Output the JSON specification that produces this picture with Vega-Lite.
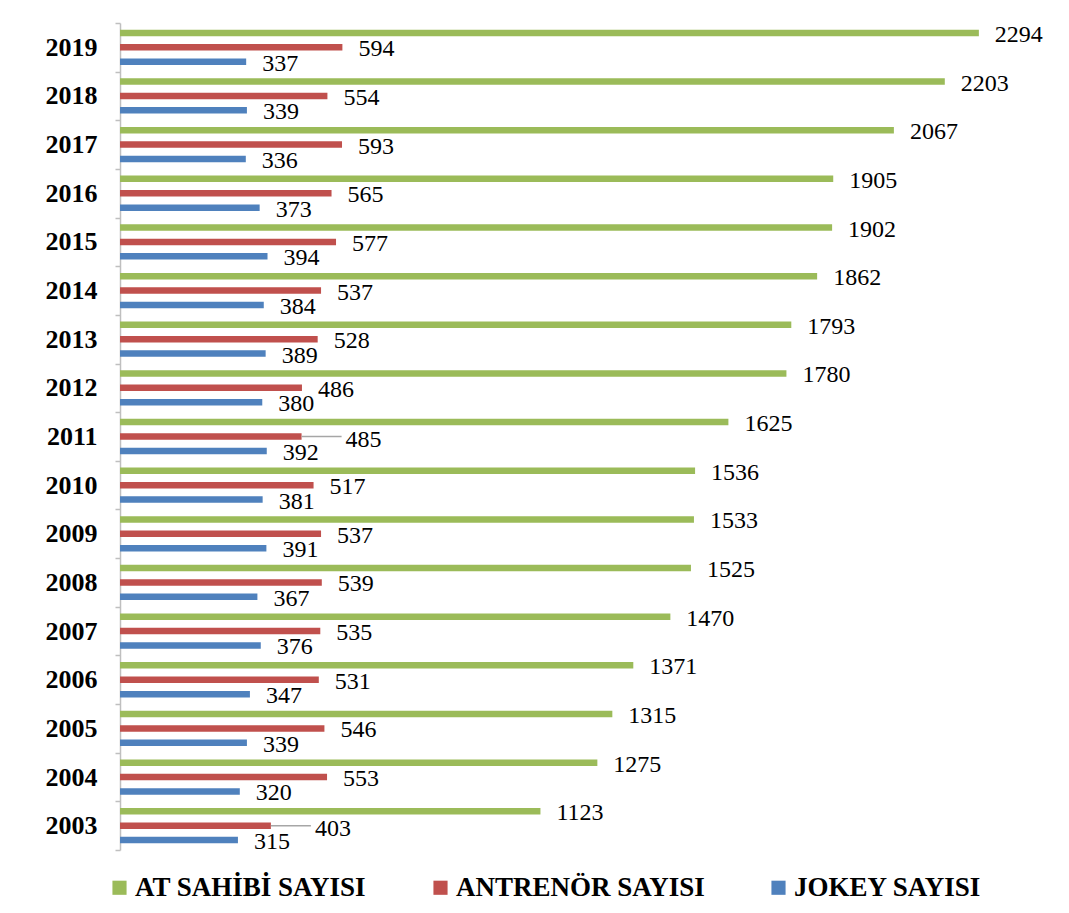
{
  "$schema": "https://vega.github.io/schema/vega-lite/v6.json",
  "autosize": {"type": "none"},
  "padding": {"left": 120, "top": 23, "right": 13, "bottom": 63},
  "width": 936,
  "height": 827,
  "background": "white",
  "config": {
    "font": "Liberation Serif",
    "view": {"stroke": null}
  },
  "data": {
    "values": [
      {"year": "2019", "series": "AT SAHİBİ SAYISI", "value": 2294},
      {"year": "2019", "series": "ANTRENÖR SAYISI", "value": 594},
      {"year": "2019", "series": "JOKEY SAYISI", "value": 337},
      {"year": "2018", "series": "AT SAHİBİ SAYISI", "value": 2203},
      {"year": "2018", "series": "ANTRENÖR SAYISI", "value": 554},
      {"year": "2018", "series": "JOKEY SAYISI", "value": 339},
      {"year": "2017", "series": "AT SAHİBİ SAYISI", "value": 2067},
      {"year": "2017", "series": "ANTRENÖR SAYISI", "value": 593},
      {"year": "2017", "series": "JOKEY SAYISI", "value": 336},
      {"year": "2016", "series": "AT SAHİBİ SAYISI", "value": 1905},
      {"year": "2016", "series": "ANTRENÖR SAYISI", "value": 565},
      {"year": "2016", "series": "JOKEY SAYISI", "value": 373},
      {"year": "2015", "series": "AT SAHİBİ SAYISI", "value": 1902},
      {"year": "2015", "series": "ANTRENÖR SAYISI", "value": 577},
      {"year": "2015", "series": "JOKEY SAYISI", "value": 394},
      {"year": "2014", "series": "AT SAHİBİ SAYISI", "value": 1862},
      {"year": "2014", "series": "ANTRENÖR SAYISI", "value": 537},
      {"year": "2014", "series": "JOKEY SAYISI", "value": 384},
      {"year": "2013", "series": "AT SAHİBİ SAYISI", "value": 1793},
      {"year": "2013", "series": "ANTRENÖR SAYISI", "value": 528},
      {"year": "2013", "series": "JOKEY SAYISI", "value": 389},
      {"year": "2012", "series": "AT SAHİBİ SAYISI", "value": 1780},
      {"year": "2012", "series": "ANTRENÖR SAYISI", "value": 486},
      {"year": "2012", "series": "JOKEY SAYISI", "value": 380},
      {"year": "2011", "series": "AT SAHİBİ SAYISI", "value": 1625},
      {"year": "2011", "series": "ANTRENÖR SAYISI", "value": 485},
      {"year": "2011", "series": "JOKEY SAYISI", "value": 392},
      {"year": "2010", "series": "AT SAHİBİ SAYISI", "value": 1536},
      {"year": "2010", "series": "ANTRENÖR SAYISI", "value": 517},
      {"year": "2010", "series": "JOKEY SAYISI", "value": 381},
      {"year": "2009", "series": "AT SAHİBİ SAYISI", "value": 1533},
      {"year": "2009", "series": "ANTRENÖR SAYISI", "value": 537},
      {"year": "2009", "series": "JOKEY SAYISI", "value": 391},
      {"year": "2008", "series": "AT SAHİBİ SAYISI", "value": 1525},
      {"year": "2008", "series": "ANTRENÖR SAYISI", "value": 539},
      {"year": "2008", "series": "JOKEY SAYISI", "value": 367},
      {"year": "2007", "series": "AT SAHİBİ SAYISI", "value": 1470},
      {"year": "2007", "series": "ANTRENÖR SAYISI", "value": 535},
      {"year": "2007", "series": "JOKEY SAYISI", "value": 376},
      {"year": "2006", "series": "AT SAHİBİ SAYISI", "value": 1371},
      {"year": "2006", "series": "ANTRENÖR SAYISI", "value": 531},
      {"year": "2006", "series": "JOKEY SAYISI", "value": 347},
      {"year": "2005", "series": "AT SAHİBİ SAYISI", "value": 1315},
      {"year": "2005", "series": "ANTRENÖR SAYISI", "value": 546},
      {"year": "2005", "series": "JOKEY SAYISI", "value": 339},
      {"year": "2004", "series": "AT SAHİBİ SAYISI", "value": 1275},
      {"year": "2004", "series": "ANTRENÖR SAYISI", "value": 553},
      {"year": "2004", "series": "JOKEY SAYISI", "value": 320},
      {"year": "2003", "series": "AT SAHİBİ SAYISI", "value": 1123},
      {"year": "2003", "series": "ANTRENÖR SAYISI", "value": 403},
      {"year": "2003", "series": "JOKEY SAYISI", "value": 315}
    ]
  },
  "encoding": {
    "y": {
      "field": "year",
      "type": "nominal",
      "sort": "descending",
      "scale": {"paddingInner": 0, "paddingOuter": 0},
      "axis": {
        "title": null,
        "labelFont": "Liberation Serif",
        "labelFontSize": 26,
        "labelFontWeight": "bold",
        "labelColor": "#000000",
        "labelPadding": 18,
        "tickBand": "extent",
        "tickSize": 5,
        "tickColor": "#bfbfbf",
        "domainColor": "#bfbfbf",
        "domainWidth": 1.5,
        "tickWidth": 1.5
      }
    },
    "yOffset": {
      "field": "series",
      "type": "nominal",
      "sort": ["AT SAHİBİ SAYISI", "ANTRENÖR SAYISI", "JOKEY SAYISI"],
      "scale": {"paddingInner": 0, "paddingOuter": 0.19}
    },
    "x": {
      "field": "value",
      "type": "quantitative",
      "scale": {"domain": [0, 2500], "nice": false},
      "axis": null
    }
  },
  "layer": [
    {
      "mark": {"type": "bar", "size": 6.5},
      "encoding": {
        "color": {
          "field": "series",
          "type": "nominal",
          "scale": {
            "domain": ["AT SAHİBİ SAYISI", "ANTRENÖR SAYISI", "JOKEY SAYISI"],
            "range": ["#9BBB59", "#C0504D", "#4F81BD"]
          },
          "legend": {
            "title": null,
            "orient": "none",
            "direction": "horizontal",
            "columns": 3,
            "legendX": -14,
            "legendY": 851,
            "columnPadding": 60,
            "symbolType": "square",
            "symbolSize": 200,
            "symbolStrokeWidth": 0,
            "symbolOpacity": 1,
            "labelFont": "Liberation Serif",
            "labelFontSize": 27,
            "labelFontWeight": "bold",
            "labelColor": "#000000",
            "labelOffset": 2,
            "labelLimit": 400
          }
        }
      }
    },
    {
      "transform": [
        {"filter": "!((datum.year == '2011' || datum.year == '2003') && datum.series == 'ANTRENÖR SAYISI')"}
      ],
      "mark": {"type": "text", "font": "Liberation Serif", "align": "left", "baseline": "middle", "dx": 16, "dy": 2, "fontSize": 24, "color": "#000000"},
      "encoding": {"text": {"field": "value", "type": "quantitative"}}
    },
    {
      "transform": [
        {"filter": "(datum.year == '2011' || datum.year == '2003') && datum.series == 'ANTRENÖR SAYISI'"}
      ],
      "mark": {"type": "rule", "color": "#a6a6a6", "strokeWidth": 1.5, "x2Offset": 40},
      "encoding": {"x2": {"field": "value"}}
    },
    {
      "transform": [
        {"filter": "(datum.year == '2011' || datum.year == '2003') && datum.series == 'ANTRENÖR SAYISI'"}
      ],
      "mark": {"type": "text", "font": "Liberation Serif", "align": "left", "baseline": "middle", "dx": 44, "dy": 3, "fontSize": 24, "color": "#000000"},
      "encoding": {"text": {"field": "value", "type": "quantitative"}}
    }
  ]
}
